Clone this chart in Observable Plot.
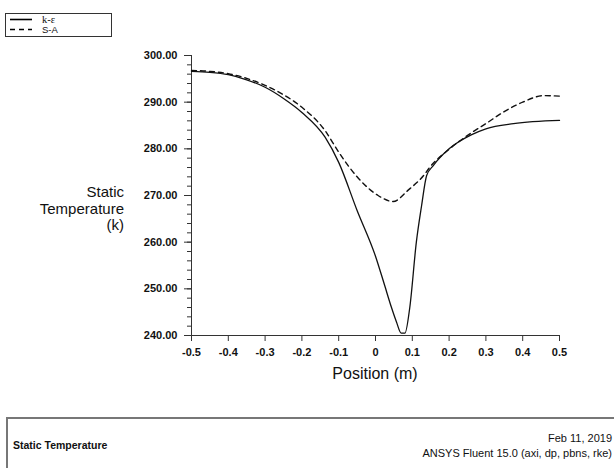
<!DOCTYPE html>
<html>
<head>
<meta charset="utf-8">
<script src="https://cdn.jsdelivr.net/npm/d3@7"></script>
<script src="https://cdn.jsdelivr.net/npm/@observablehq/plot@0.6"></script>
<style>
  html, body { margin: 0; padding: 0; background: #fff; }
  #wrap { position: relative; width: 614px; height: 468px; overflow: hidden; font-family: "Liberation Sans", Arial, sans-serif; color: #111; }
  #chart { position: absolute; left: 0; top: 0; }
  #legend { position: absolute; left: 5px; top: 13px; width: 105px; height: 22px; border: 1px solid #333; font-size: 9.5px; }
  .lg { position: absolute; left: 2px; width: 100px; height: 10px; }
  .lg svg { position: absolute; left: 0; top: 0; }
  .lg span { position: absolute; left: 34px; top: 0px; line-height: 9px; }
  #ylabel { position: absolute; right: 490px; top: 184px; text-align: right; font-size: 15px; line-height: 16.5px; }
  #xlabel { position: absolute; left: 275px; width: 200px; top: 365px; text-align: center; font-size: 16px; }
  #footer { position: absolute; left: 6px; top: 417px; width: 640px; height: 80px; border-top: 2px solid #777; border-left: 2px solid #777; }
  #fleft { position: absolute; left: 5px; top: 20px; font-size: 10.5px; font-weight: bold; }
  #fright { position: absolute; right: 36px; top: 12px; font-size: 11px; text-align: right; line-height: 15px; }
</style>
</head>
<body>
<div id="wrap">
  <div id="chart"></div>
  <div id="legend">
    <div class="lg" style="top:1px"><svg width="26" height="10"><line x1="2" x2="24" y1="4.5" y2="4.5" stroke="#000" stroke-width="1.6"/></svg><span style="font-family:'Liberation Serif', 'Times New Roman', serif; font-size: 10.5px">k-ε</span></div>
    <div class="lg" style="top:11px"><svg width="26" height="10"><line x1="2" x2="24" y1="4.5" y2="4.5" stroke="#000" stroke-width="1.4" stroke-dasharray="5,4"/></svg><span>S-A</span></div>
  </div>
  <div id="ylabel">Static<br>Temperature<br>(k)</div>
  <div id="xlabel">Position (m)</div>
  <div id="footer">
    <div id="fleft">Static Temperature</div>
    <div id="fright">Feb 11, 2019<br>ANSYS Fluent 15.0 (axi, dp, pbns, rke)</div>
  </div>
</div>
<script>
// k-epsilon (solid)
const keX = [-0.5, -0.45, -0.4, -0.35, -0.3, -0.25, -0.2, -0.137, -0.1, -0.05, 0.0, 0.025, 0.043, 0.057, 0.07, 0.08, 0.093, 0.111, 0.125, 0.139, 0.157, 0.2, 0.26, 0.3, 0.375, 0.5];
const keT = [296.6, 296.4, 295.9, 294.8, 293.2, 290.8, 287.8, 282.5, 277.1, 266.8, 257.0, 250.7, 246.1, 242.9, 240.5, 240.5, 245.9, 260.0, 267.7, 274.3, 276.4, 280.0, 283.0, 284.3, 285.4, 286.1];
// Spalart-Allmaras (dashed)
const saX = [-0.5, -0.45, -0.4, -0.35, -0.3, -0.25, -0.2, -0.137, -0.1, -0.05, 0.007, 0.048, 0.088, 0.134, 0.147, 0.2, 0.26, 0.3, 0.348, 0.4, 0.457, 0.5];
const saT = [296.8, 296.6, 296.1, 295.1, 293.6, 291.6, 288.9, 283.9, 279.3, 274.0, 270.0, 268.7, 271.1, 274.6, 276.0, 279.9, 283.4, 285.4, 287.9, 290.0, 291.4, 291.3];

const xTicks = [-0.5, -0.4, -0.3, -0.2, -0.1, 0, 0.1, 0.2, 0.3, 0.4, 0.5];
const yTicks = [240, 250, 260, 270, 280, 290, 300];
const yMinor = d3.range(240, 301, 2);

const ke = keX.map((x, i) => ({x, t: keT[i]}));
const sa = saX.map((x, i) => ({x, t: saT[i]}));

const chart = Plot.plot({
  width: 614,
  height: 400,
  marginLeft: 191,
  marginRight: 55,
  marginTop: 55,
  marginBottom: 65,
  style: {fontFamily: "'Liberation Sans', Arial, sans-serif", background: "#fff", color: "#111"},
  x: {domain: [-0.5, 0.5]},
  y: {domain: [240, 300]},
  marks: [
    Plot.axisY({ticks: yMinor, tickSize: 4, text: null, label: null, stroke: "#333"}),
    Plot.axisY({ticks: yTicks, tickSize: 7, tickPadding: 7, tickFormat: d3.format(".2f"), fontSize: 11, fontWeight: "bold", label: null, stroke: "#333"}),
    Plot.axisX({ticks: xTicks, tickSize: 6, tickPadding: 7, tickFormat: d => String(d), fontSize: 11, fontWeight: "bold", label: null, stroke: "#333"}),
    Plot.ruleX([-0.5], {stroke: "#333"}),
    Plot.ruleY([240], {stroke: "#333"}),
    Plot.line(sa, {x: "x", y: "t", curve: "monotone-x", stroke: "#111", strokeWidth: 1.4, strokeDasharray: "5,4"}),
    Plot.line(ke, {x: "x", y: "t", curve: "monotone-x", stroke: "#111", strokeWidth: 1.3})
  ]
});
document.getElementById("chart").appendChild(chart);
</script>
</body>
</html>
